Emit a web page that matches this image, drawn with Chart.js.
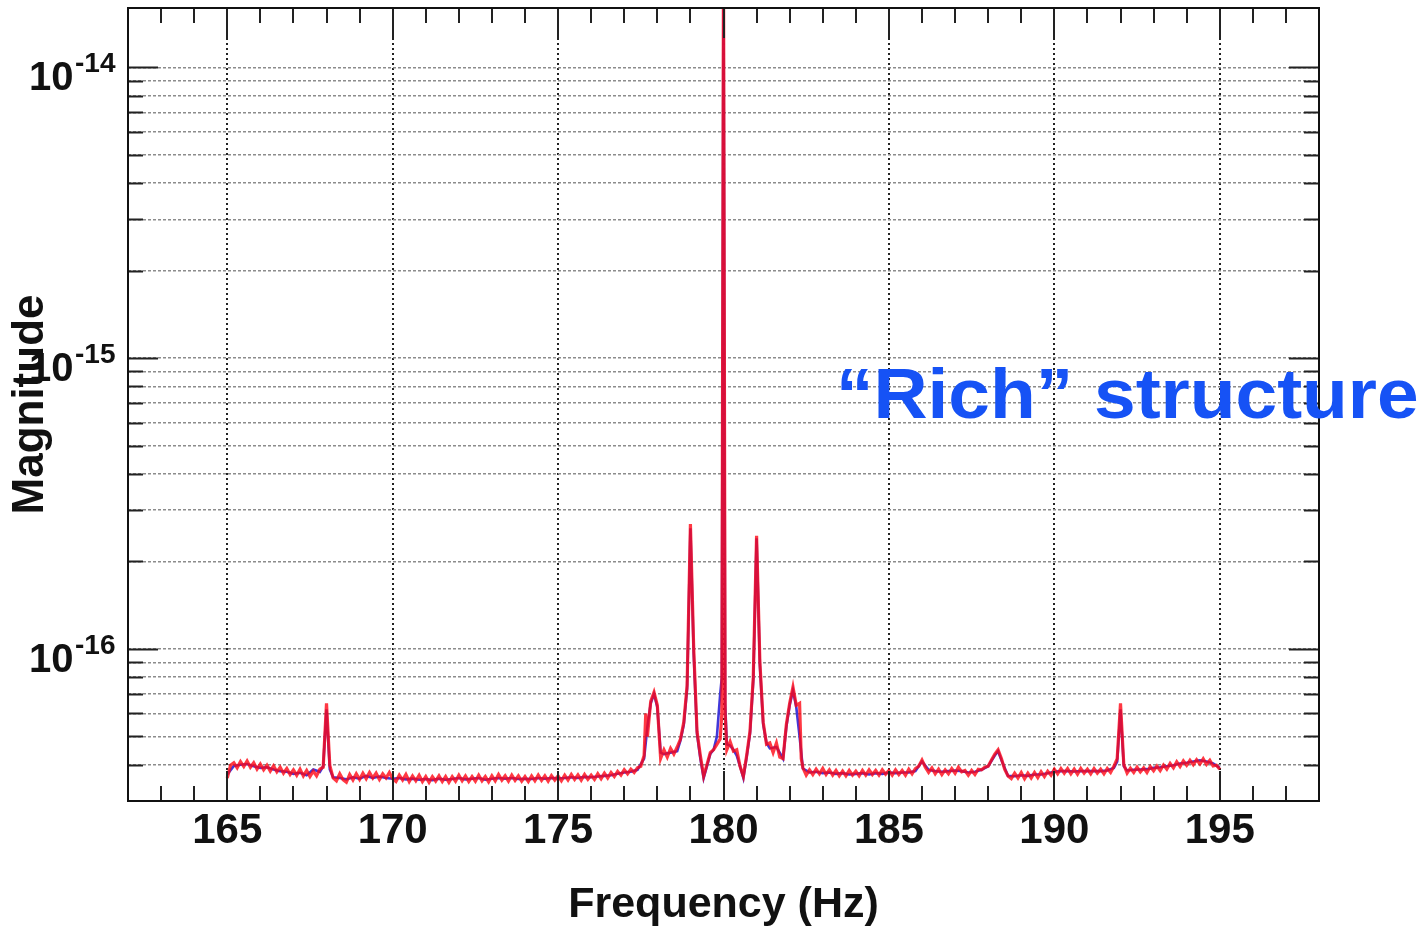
<!DOCTYPE html>
<html>
<head>
<meta charset="utf-8">
<script src="https://cdn.jsdelivr.net/npm/chart.js@4.4.1/dist/chart.umd.min.js"></script>
<style>
html,body{margin:0;padding:0;background:#ffffff;}
canvas{display:block;}
</style>
</head>
<body>
<canvas id="c" width="1425" height="930" style="width:1425px;height:930px"></canvas>
<script>
// ---------- data ----------
const xMajorTicks = [165, 170, 175, 180, 185, 190, 195];
const xMinorTicks = [163,164,166,167,168,169,171,172,173,174,176,177,178,179,181,182,183,184,186,187,188,189,191,192,193,194,196,197];
const yDecadeValues = [1e-16, 1e-15, 1e-14];
const yDecadeExponents = ['-16', '-15', '-14'];
const yMinorValues = [4e-17,5e-17,6e-17,7e-17,8e-17,9e-17,
  2e-16,3e-16,4e-16,5e-16,6e-16,7e-16,8e-16,9e-16,
  2e-15,3e-15,4e-15,5e-15,6e-15,7e-15,8e-15,9e-15];

const redFreq = [
165.0,165.1,165.2,165.3,165.4,165.5,165.6,165.7,165.8,165.9,
166.0,166.1,166.2,166.3,166.4,166.5,166.6,166.7,166.8,166.9,
167.0,167.1,167.2,167.3,167.4,167.5,167.6,167.7,167.8,167.9,
168.0,168.1,168.2,168.3,168.4,168.5,168.6,168.7,168.8,168.9,
169.0,169.1,169.2,169.3,169.4,169.5,169.6,169.7,169.8,169.9,
170.0,170.1,170.2,170.3,170.4,170.5,170.6,170.7,170.8,170.9,
171.0,171.1,171.2,171.3,171.4,171.5,171.6,171.7,171.8,171.9,
172.0,172.1,172.2,172.3,172.4,172.5,172.6,172.7,172.8,172.9,
173.0,173.1,173.2,173.3,173.4,173.5,173.6,173.7,173.8,173.9,
174.0,174.1,174.2,174.3,174.4,174.5,174.6,174.7,174.8,174.9,
175.0,175.1,175.2,175.3,175.4,175.5,175.6,175.7,175.8,175.9,
176.0,176.1,176.2,176.3,176.4,176.5,176.6,176.7,176.8,176.9,
177.0,177.1,177.2,177.3,177.4,177.5,177.6,177.65,177.7,177.8,177.9,
178.0,178.1,178.2,178.3,178.4,178.5,178.6,178.7,178.8,178.9,
179.0,179.1,179.2,179.3,179.4,179.5,179.6,179.7,179.8,179.9,179.95,
180.0,180.05,180.1,180.2,180.3,180.4,180.5,180.6,180.7,180.8,180.9,
181.0,181.1,181.2,181.3,181.4,181.5,181.6,181.7,181.8,181.9,
182.0,182.1,182.2,182.3,182.35,182.4,182.5,182.6,182.7,182.8,182.9,
183.0,183.1,183.2,183.3,183.4,183.5,183.6,183.7,183.8,183.9,
184.0,184.1,184.2,184.3,184.4,184.5,184.6,184.7,184.8,184.9,
185.0,185.1,185.2,185.3,185.4,185.5,185.6,185.7,185.8,185.9,
186.0,186.1,186.2,186.3,186.4,186.5,186.6,186.7,186.8,186.9,
187.0,187.1,187.2,187.3,187.4,187.5,187.6,187.7,187.8,187.9,
188.0,188.1,188.2,188.3,188.4,188.5,188.6,188.7,188.8,188.9,
189.0,189.1,189.2,189.3,189.4,189.5,189.6,189.7,189.8,189.9,
190.0,190.1,190.2,190.3,190.4,190.5,190.6,190.7,190.8,190.9,
191.0,191.1,191.2,191.3,191.4,191.5,191.6,191.7,191.8,191.9,
192.0,192.1,192.2,192.3,192.4,192.5,192.6,192.7,192.8,192.9,
193.0,193.1,193.2,193.3,193.4,193.5,193.6,193.7,193.8,193.9,
194.0,194.1,194.2,194.3,194.4,194.5,194.6,194.7,194.8,194.9,
195.0];

const redMag = [
3.60e-17,3.98e-17,4.06e-17,3.90e-17,4.10e-17,3.94e-17,4.12e-17,3.92e-17,4.06e-17,3.86e-17,
4.02e-17,3.84e-17,3.98e-17,3.80e-17,3.96e-17,3.78e-17,3.92e-17,3.74e-17,3.88e-17,3.70e-17,
3.84e-17,3.68e-17,3.86e-17,3.66e-17,3.82e-17,3.64e-17,3.80e-17,3.66e-17,3.86e-17,3.92e-17,
6.50e-17,3.98e-17,3.60e-17,3.52e-17,3.72e-17,3.55e-17,3.48e-17,3.70e-17,3.54e-17,3.72e-17,
3.56e-17,3.74e-17,3.58e-17,3.76e-17,3.60e-17,3.74e-17,3.56e-17,3.72e-17,3.60e-17,3.76e-17,
3.58e-17,3.50e-17,3.68e-17,3.54e-17,3.70e-17,3.50e-17,3.66e-17,3.52e-17,3.68e-17,3.50e-17,
3.64e-17,3.48e-17,3.64e-17,3.51e-17,3.66e-17,3.50e-17,3.64e-17,3.48e-17,3.64e-17,3.51e-17,
3.68e-17,3.52e-17,3.66e-17,3.50e-17,3.64e-17,3.51e-17,3.68e-17,3.52e-17,3.64e-17,3.49e-17,
3.66e-17,3.52e-17,3.70e-17,3.54e-17,3.66e-17,3.51e-17,3.68e-17,3.53e-17,3.66e-17,3.51e-17,
3.64e-17,3.50e-17,3.66e-17,3.52e-17,3.68e-17,3.53e-17,3.66e-17,3.51e-17,3.67e-17,3.54e-17,
3.66e-17,3.52e-17,3.68e-17,3.54e-17,3.70e-17,3.56e-17,3.69e-17,3.54e-17,3.70e-17,3.56e-17,
3.68e-17,3.56e-17,3.72e-17,3.58e-17,3.74e-17,3.60e-17,3.76e-17,3.64e-17,3.79e-17,3.68e-17,
3.84e-17,3.72e-17,3.86e-17,3.76e-17,3.90e-17,3.95e-17,4.30e-17,6.00e-17,5.00e-17,6.60e-17,7.10e-17,
6.40e-17,4.20e-17,4.50e-17,4.25e-17,4.55e-17,4.35e-17,4.60e-17,4.90e-17,5.60e-17,7.50e-17,
2.69e-16,1.00e-16,5.20e-17,4.30e-17,3.65e-17,4.00e-17,4.40e-17,4.50e-17,4.70e-17,4.90e-17,6.00e-17,
2.50e-14,6.00e-17,4.50e-17,4.80e-17,4.45e-17,4.50e-17,3.95e-17,3.65e-17,4.30e-17,5.20e-17,8.00e-17,
2.45e-16,9.00e-17,5.60e-17,4.70e-17,4.75e-17,4.40e-17,4.75e-17,4.25e-17,4.20e-17,5.50e-17,
6.50e-17,7.40e-17,6.40e-17,6.50e-17,4.20e-17,3.90e-17,3.68e-17,3.84e-17,3.70e-17,3.86e-17,3.72e-17,
3.88e-17,3.70e-17,3.84e-17,3.68e-17,3.82e-17,3.66e-17,3.80e-17,3.66e-17,3.82e-17,3.68e-17,
3.80e-17,3.66e-17,3.82e-17,3.68e-17,3.84e-17,3.70e-17,3.82e-17,3.68e-17,3.84e-17,3.71e-17,
3.82e-17,3.68e-17,3.84e-17,3.70e-17,3.82e-17,3.68e-17,3.86e-17,3.72e-17,3.88e-17,3.95e-17,
4.15e-17,3.92e-17,3.76e-17,3.90e-17,3.72e-17,3.86e-17,3.70e-17,3.84e-17,3.72e-17,3.88e-17,
3.74e-17,3.92e-17,3.78e-17,3.82e-17,3.68e-17,3.82e-17,3.70e-17,3.86e-17,3.84e-17,3.92e-17,
3.95e-17,4.15e-17,4.35e-17,4.50e-17,4.20e-17,3.85e-17,3.66e-17,3.58e-17,3.74e-17,3.60e-17,
3.76e-17,3.58e-17,3.74e-17,3.60e-17,3.76e-17,3.61e-17,3.78e-17,3.64e-17,3.80e-17,3.68e-17,
3.86e-17,3.72e-17,3.88e-17,3.74e-17,3.88e-17,3.72e-17,3.86e-17,3.71e-17,3.88e-17,3.74e-17,
3.86e-17,3.72e-17,3.88e-17,3.74e-17,3.86e-17,3.72e-17,3.88e-17,3.76e-17,3.95e-17,4.20e-17,
6.50e-17,4.00e-17,3.74e-17,3.89e-17,3.76e-17,3.92e-17,3.78e-17,3.90e-17,3.76e-17,3.94e-17,
3.81e-17,3.96e-17,3.82e-17,3.99e-17,3.86e-17,4.04e-17,3.90e-17,4.09e-17,3.94e-17,4.12e-17,
3.98e-17,4.14e-17,4.00e-17,4.16e-17,4.02e-17,4.19e-17,4.01e-17,4.14e-17,3.96e-17,3.98e-17,
3.86e-17];

const blueFreq = [
165.0,165.2,165.4,165.6,165.8,166.0,166.2,166.4,166.6,166.8,
167.0,167.2,167.4,167.6,167.8,167.9,168.0,168.1,168.2,168.4,168.6,168.8,
169.0,169.2,169.4,169.6,169.8,170.0,170.2,170.4,170.6,170.8,
171.0,171.2,171.4,171.6,171.8,172.0,172.2,172.4,172.6,172.8,
173.0,173.2,173.4,173.6,173.8,174.0,174.2,174.4,174.6,174.8,
175.0,175.2,175.4,175.6,175.8,176.0,176.2,176.4,176.6,176.8,
177.0,177.2,177.4,177.6,177.7,177.8,177.9,
178.0,178.1,178.2,178.4,178.6,178.7,178.8,178.9,
179.0,179.1,179.2,179.3,179.4,179.5,179.6,179.7,179.8,179.9,179.95,
180.0,180.05,180.1,180.2,180.3,180.4,180.5,180.6,180.7,180.8,180.9,
181.0,181.1,181.2,181.3,181.4,181.6,181.8,181.9,
182.0,182.1,182.2,182.3,182.4,182.6,182.8,
183.0,183.2,183.4,183.6,183.8,184.0,184.2,184.4,184.6,184.8,
185.0,185.2,185.4,185.6,185.8,186.0,186.2,186.4,186.6,186.8,
187.0,187.2,187.4,187.6,187.8,188.0,188.2,188.3,188.4,188.6,188.8,
189.0,189.2,189.4,189.6,189.8,190.0,190.2,190.4,190.6,190.8,
191.0,191.2,191.4,191.6,191.8,191.9,192.0,192.1,192.2,192.4,192.6,192.8,
193.0,193.2,193.4,193.6,193.8,194.0,194.2,194.4,194.6,194.8,
195.0];

const blueMag = [
3.70e-17,3.96e-17,4.00e-17,4.02e-17,3.95e-17,3.90e-17,3.92e-17,3.85e-17,3.80e-17,3.78e-17,
3.72e-17,3.75e-17,3.68e-17,3.85e-17,3.78e-17,3.95e-17,6.20e-17,3.85e-17,3.62e-17,3.60e-17,3.56e-17,3.62e-17,
3.58e-17,3.66e-17,3.60e-17,3.64e-17,3.60e-17,3.58e-17,3.60e-17,3.56e-17,3.58e-17,3.55e-17,
3.57e-17,3.54e-17,3.58e-17,3.55e-17,3.57e-17,3.60e-17,3.56e-17,3.58e-17,3.60e-17,3.55e-17,
3.58e-17,3.60e-17,3.58e-17,3.60e-17,3.57e-17,3.58e-17,3.57e-17,3.60e-17,3.58e-17,3.60e-17,
3.59e-17,3.60e-17,3.62e-17,3.60e-17,3.63e-17,3.62e-17,3.64e-17,3.66e-17,3.68e-17,3.72e-17,
3.76e-17,3.78e-17,3.84e-17,4.20e-17,5.40e-17,6.50e-17,7.00e-17,
6.30e-17,4.40e-17,4.35e-17,4.40e-17,4.45e-17,4.85e-17,5.50e-17,7.30e-17,
2.60e-16,9.60e-17,5.10e-17,4.20e-17,3.60e-17,3.95e-17,4.35e-17,4.50e-17,5.00e-17,7.00e-17,8.00e-17,
2.40e-14,6.50e-17,4.70e-17,4.65e-17,4.50e-17,4.30e-17,3.95e-17,3.60e-17,4.25e-17,5.10e-17,7.80e-17,
2.40e-16,8.80e-17,5.50e-17,4.75e-17,4.55e-17,4.60e-17,4.20e-17,5.40e-17,
6.40e-17,7.20e-17,6.30e-17,5.00e-17,3.88e-17,3.76e-17,3.78e-17,
3.74e-17,3.76e-17,3.72e-17,3.74e-17,3.70e-17,3.72e-17,3.74e-17,3.70e-17,3.74e-17,3.72e-17,
3.76e-17,3.74e-17,3.76e-17,3.76e-17,3.80e-17,4.10e-17,3.84e-17,3.80e-17,3.78e-17,3.80e-17,
3.82e-17,3.80e-17,3.76e-17,3.78e-17,3.84e-17,3.95e-17,4.30e-17,4.45e-17,4.15e-17,3.66e-17,3.65e-17,
3.68e-17,3.66e-17,3.70e-17,3.70e-17,3.74e-17,3.78e-17,3.80e-17,3.80e-17,3.79e-17,3.80e-17,
3.80e-17,3.80e-17,3.80e-17,3.82e-17,3.90e-17,4.10e-17,6.20e-17,3.95e-17,3.82e-17,3.84e-17,3.85e-17,3.86e-17,
3.90e-17,3.92e-17,3.95e-17,3.98e-17,4.04e-17,4.06e-17,4.10e-17,4.14e-17,4.10e-17,4.04e-17,
3.90e-17];

const xTitle = 'Frequency (Hz)';
const yTitle = 'Magnitude';
const annotationText = '\u201CRich\u201D structure';

// ---------- chart ----------
const FONT = '"Liberation Sans", Arial, Helvetica, sans-serif';

const framePlugin = {
  id: 'framePlugin',
  afterDraw(chart) {
    const ctx = chart.ctx;
    const a = chart.chartArea;
    const xs = chart.scales.x, ys = chart.scales.y;
    ctx.save();
    // ticks
    ctx.strokeStyle = '#222';
    ctx.lineWidth = 2;
    ctx.beginPath();
    const xt = xMajorTicks.map(v => [v, 30]).concat(xMinorTicks.map(v => [v, 15]));
    xt.forEach(([v, len]) => {
      const px = Math.round(xs.getPixelForValue(v));
      ctx.moveTo(px, a.bottom); ctx.lineTo(px, a.bottom - len);
      ctx.moveTo(px, a.top); ctx.lineTo(px, a.top + len);
    });
    const yt = yDecadeValues.map(v => [v, 30]).concat(yMinorValues.map(v => [v, 15]));
    yt.forEach(([v, len]) => {
      const py = Math.round(ys.getPixelForValue(v)) + 0.5;
      ctx.moveTo(a.left, py); ctx.lineTo(a.left + len, py);
      ctx.moveTo(a.right, py); ctx.lineTo(a.right - len, py);
    });
    ctx.stroke();
    // frame
    ctx.strokeStyle = '#111';
    ctx.lineWidth = 2;
    ctx.strokeRect(a.left, a.top, a.right - a.left, a.bottom - a.top);
    // y tick labels with superscript exponent
    ctx.fillStyle = '#111';
    ctx.textBaseline = 'alphabetic';
    ctx.textAlign = 'left';
    yDecadeValues.forEach((v, i) => {
      const py = ys.getPixelForValue(v);
      ctx.font = 'bold 40px ' + FONT;
      ctx.fillText('10', 29, py + 23);
      ctx.font = 'bold 28px ' + FONT;
      ctx.fillText(yDecadeExponents[i], 75, py + 5);
    });
    // annotation
    ctx.fillStyle = '#1652f5';
    ctx.font = 'bold 70px ' + FONT;
    ctx.translate(836, 418);
    ctx.scale(1.07, 1);
    ctx.fillText(annotationText, 0, 0);
    ctx.restore();
  }
};

const ctx = document.getElementById('c').getContext('2d');
new Chart(ctx, {
  type: 'line',
  data: {
    datasets: [
      {
        label: 'red',
        data: redFreq.map((f, i) => ({x: f, y: redMag[i]})),
        borderColor: 'rgba(255,8,20,0.8)',
        borderWidth: 3.2,
        pointRadius: 0,
        tension: 0,
        order: 0
      },
      {
        label: 'blue',
        data: blueFreq.map((f, i) => ({x: f, y: blueMag[i]})),
        borderColor: 'rgba(55,45,215,0.95)',
        borderWidth: 2.6,
        pointRadius: 0,
        tension: 0,
        order: 1
      }
    ]
  },
  options: {
    responsive: false,
    animation: false,
    devicePixelRatio: 1,
    layout: {padding: {top: 8, right: 106, bottom: 0, left: 0}},
    plugins: {legend: {display: false}, tooltip: {enabled: false}, title: {display: false}},
    scales: {
      x: {
        type: 'linear',
        min: 162, max: 198,
        afterBuildTicks: s => { s.ticks = xMajorTicks.map(v => ({value: v})); },
        afterFit: s => { s.height = 129; },
        grid: {color: '#222', lineWidth: 2, drawTicks: false},
        border: {display: false, dash: [2, 3]},
        ticks: {
          font: {family: FONT, size: 42, weight: 'bold'},
          color: '#111',
          padding: 5,
          maxRotation: 0,
          autoSkip: false,
          callback: v => String(v)
        },
        title: {
          display: true, text: xTitle, color: '#111',
          font: {family: FONT, size: 43, weight: 'bold', lineHeight: 1.1},
          padding: {top: 0, bottom: 1}
        }
      },
      y: {
        type: 'logarithmic',
        min: 3e-17, max: 1.6e-14,
        afterBuildTicks: s => { s.ticks = yDecadeValues.concat(yMinorValues).sort((p, q) => p - q).map(v => ({value: v})); },
        afterFit: s => { s.width = 128; },
        grid: {color: '#8c8c8c', lineWidth: 1.5, drawTicks: false},
        border: {display: false, dash: [3, 2]},
        ticks: {display: false},
        title: {
          display: true, text: yTitle, color: '#111',
          font: {family: FONT, size: 44, weight: 'bold', lineHeight: 1.2},
          padding: {top: 4, bottom: 0}
        }
      }
    }
  },
  plugins: [framePlugin]
});
</script>
</body>
</html>
